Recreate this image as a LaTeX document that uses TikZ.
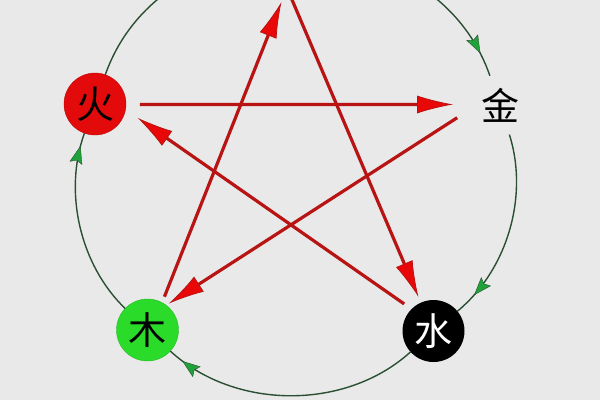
\documentclass[tikz,border=0pt]{standalone}
\usepackage{fontspec}
\newfontfamily\cjk{Noto Sans CJK SC}
\usetikzlibrary{arrows.meta, decorations.markings}
\definecolor{bg}{HTML}{E9E9E9}
\definecolor{huored}{HTML}{E20A0A}
\definecolor{mugreen}{HTML}{2ADB2A}
\definecolor{kered}{HTML}{B81414}
\definecolor{kefill}{HTML}{E80808}
\definecolor{shengline}{HTML}{2A4F32}
\definecolor{shengfill}{HTML}{1FA23A}

\begin{document}
\begin{tikzpicture} [
  x=1pt,
  y=-1pt,
  element/.style={circle, inner sep=0pt, outer sep=0pt, minimum size=62pt,
    font=\cjk\fontsize{38}{38}\selectfont},
  sheng/.style={draw=shengline, line width=1.4pt, postaction={decorate},
    decoration={markings, mark=at position #1 with
      {\arrow{Stealth[length=18pt, width=13pt, inset=3pt, fill=shengfill, line width=0.4pt]}}}},
  ke/.style={draw=kered, line width=3.2pt,
    -{Latex[length=36pt, width=18pt, fill=kefill, line width=0.8pt]}}
  ]
  \useasboundingbox[fill=bg] (0,0) rectangle (600,400);

  \node(huo)[element, fill=huored, draw=huored!85!black, text=black, at={(95,104)}]{火};
  \node(jin)[element, text=black, at={(500,105)}]{金};
  \node(shui)[element, fill=black, text=white, at={(433.5,331)}]{水};
  \node(mu)[element, fill=mugreen, draw=mugreen!85!black, text=black, at={(147.5,330)}]{木};
  \coordinate(tu) at (287,-12);

  % green circle
  \draw[sheng=0.95] (huo) to[bend left=70.75, looseness=1.16] (jin);
  \draw[sheng=0.88] (jin) to[bend left=34, looseness=0.9] (shui);
  \draw[sheng=0.94] (shui) to[bend left=42.5, looseness=0.93] (mu);
  \draw[sheng=0.93] (mu) to[bend left=33, looseness=0.89] (huo);

  % red star
  \draw[ke, shorten <=14pt, shorten >=16pt] (huo.-1) -- (jin.179);
  \draw[ke, shorten <=14.5pt, shorten >=3pt] (jin.189) -- (mu.53);
  \draw[ke, shorten <=6.4pt, shorten >=15pt] (mu.62) -- (tu);
  \draw[ke, shorten >=6.4pt] (tu) -- (shui.114.5);
  \draw[ke, shorten <=9pt, shorten >=14.7pt] (shui.135.5) -- (huo.-10);
\end{tikzpicture}
\end{document}
